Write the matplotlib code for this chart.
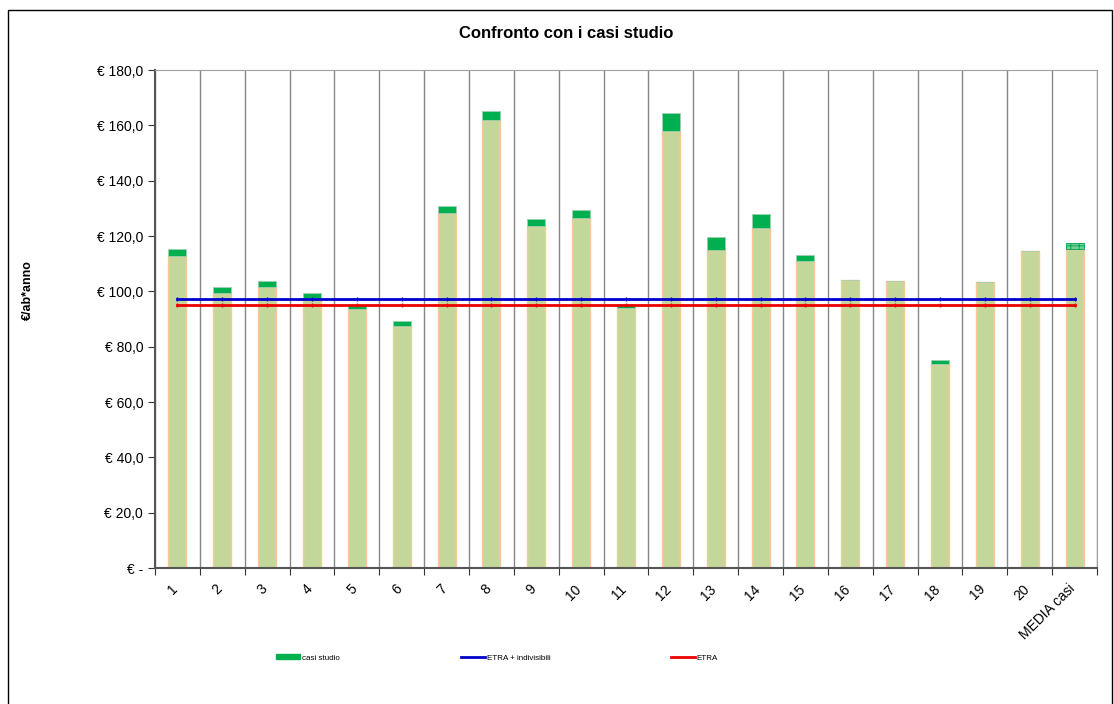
from matplotlib import pyplot as plt
from matplotlib.lines import Line2D
from matplotlib.patches import Patch, Rectangle
import matplotlib.transforms as mtransforms
import numpy as np

plt.rcParams['font.family'] = ['Liberation Sans', 'DejaVu Sans']
plt.rcParams['hatch.linewidth'] = 0.6

# Data
categories = [str(i) for i in range(1, 21)] + ['MEDIA casi']
base = [112.8, 99.5, 101.7, 97.7, 93.6, 87.6, 128.2, 161.9, 123.6, 126.5,
        94.1, 157.8, 114.8, 122.9, 110.9, 104.0, 103.6, 73.6, 103.3, 114.5, 115.3]
extra = [2.5, 2.2, 1.9, 1.8, 1.4, 1.6, 2.7, 3.1, 2.4, 2.8,
         1.5, 6.5, 4.8, 5.1, 2.3, 0.0, 0.0, 1.5, 0.0, 0.0, 2.3]
etra_indiv = 97.1
etra = 95.0
yticks = [0, 20, 40, 60, 80, 100, 120, 140, 160, 180]

fig = plt.figure(figsize=(11.14, 7.04), dpi=100)
ax = fig.add_axes([155 / 1114, 1 - 568 / 704, 942 / 1114, 498 / 704])

x = np.arange(len(categories))
n = len(categories) - 1

# Bars: light green base + dark green top segment
ax.bar(x, base, width=0.4, color='#C4D79B', edgecolor='#F8C896', linewidth=1, zorder=2)
ax.bar(x[:n], extra[:n], bottom=base[:n], width=0.4, color='#00B050',
       edgecolor='#9FD0B0', linewidth=0.6, zorder=2)
ax.bar(x[n], extra[n], bottom=base[n], width=0.4, color='#6FCF97',
       edgecolor='#00A050', hatch='++', linewidth=0.6, zorder=2)

# Reference lines
ax.plot(x, [etra_indiv] * len(x), color='#0000CC', linewidth=2, zorder=3,
        marker='|', markersize=3)
ax.plot(x, [etra] * len(x), color='#EE0000', linewidth=2, zorder=3,
        marker='|', markersize=3)

ax.set_xlim(-0.5, n + 0.5)
ax.set_ylim(0, 180)

# Axis ticks and gridlines between categories
ax.set_xticks(np.arange(-0.5, n + 1, 1))
ax.set_xticklabels([])
ax.set_xticks(x, minor=True)
ax.set_xticklabels(categories, minor=True, rotation=45, ha='right',
                   rotation_mode='anchor', fontsize=10)
ax.tick_params(axis='x', which='minor', length=0, pad=10)
ax.tick_params(axis='x', which='major', length=5, color='#333333')
ax.grid(axis='x', which='major', color='#888888', linewidth=1, zorder=1)
shift = mtransforms.ScaledTranslation(-7 / 100, 0, fig.dpi_scale_trans)
for lbl in ax.get_xticklabels(minor=True):
    lbl.set_transform(lbl.get_transform() + shift)

ax.set_yticks(yticks)
ax.set_yticklabels(['€ -'] + ['€ {},0'.format(v) for v in yticks[1:]], fontsize=10)
ax.tick_params(axis='y', length=5, color='#333333')

ax.spines['left'].set_color('#555555')
ax.spines['bottom'].set_color('#555555')
ax.spines['left'].set_linewidth(1.5)
ax.spines['bottom'].set_linewidth(1.5)
ax.spines['top'].set_color('#A0A0A0')
ax.spines['right'].set_color('#A0A0A0')

fig.text(566 / 1114, 1 - 33 / 704, 'Confronto con i casi studio', ha='center',
         va='center', fontsize=12, fontweight='bold')
fig.text(28 / 1114, 1 - 290 / 704, '€/ab*anno', rotation=90, ha='center',
         va='center', fontsize=9, fontweight='bold')

# Legend entries spread across the bottom
entries = [
    (Patch(color='#00B050'), 'casi studio', 276),
    (Line2D([], [], color='#0000CC', linewidth=2), 'ETRA + indivisibili', 461),
    (Line2D([], [], color='#EE0000', linewidth=2), 'ETRA', 671),
]
for handle, label, xpos in entries:
    fig.legend(handles=[handle], labels=[label], loc='center left',
               bbox_to_anchor=(xpos / 1114, 1 - 658 / 704), frameon=False,
               fontsize=5.8, handlelength=3.0, handleheight=0.6, handletextpad=0.2,
               borderpad=0, borderaxespad=0)

# Outer chart border
fig.add_artist(Rectangle((8 / 1114, -0.05), 1104 / 1114, 1.05 - 10 / 704,
                         transform=fig.transFigure, fill=False,
                         edgecolor='black', linewidth=1))

plt.savefig('out.png', dpi=100)
